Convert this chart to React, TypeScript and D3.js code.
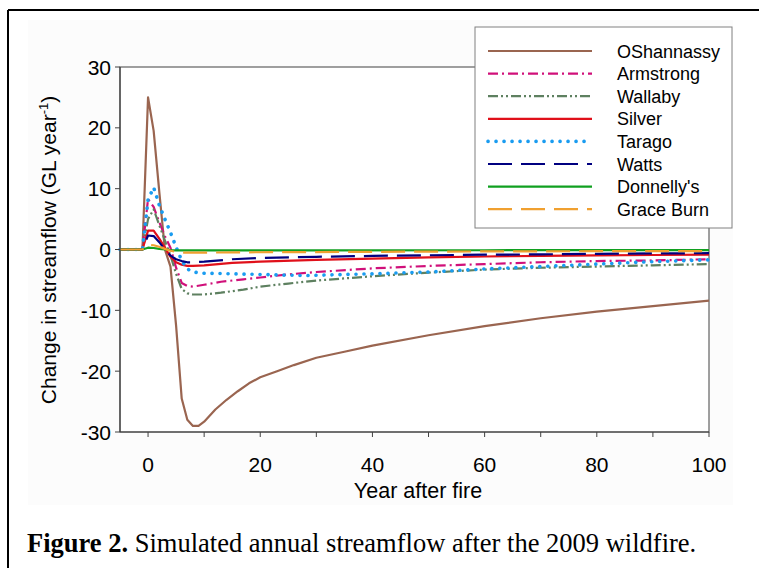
import React from "react";
import * as d3 from "d3";

type Pt = [number, number];

const pre: Pt[] = [[-5, 0], [-4, 0], [-3, 0], [-2, 0], [-1, 0]];

const oshannassy: Pt[] = [...pre, [0, 25], [1, 19.5], [2, 9.5], [3, 0], [4, -2.8], [5, -12.5], [6, -24.5], [7, -28], [8, -29], [9, -29], [10, -28.3], [12, -26.3], [14, -24.7], [16, -23.3], [18, -22], [20, -21], [23, -20], [26, -19], [30, -17.8], [35, -16.8], [40, -15.8], [50, -14.1], [60, -12.6], [70, -11.3], [80, -10.2], [90, -9.3], [100, -8.4]];
const armstrong: Pt[] = [...pre, [0, 8.3], [1, 7], [2, 4.5], [3, 2.2], [4, 0.3], [5, -3], [6, -5.5], [7, -6], [8, -6.1], [10, -5.8], [13, -5.3], [17, -4.9], [20, -4.6], [25, -4.1], [30, -3.7], [40, -3.1], [50, -2.7], [60, -2.4], [70, -2.1], [80, -1.9], [90, -1.8], [100, -1.6]];
const wallaby: Pt[] = [...pre, [0, 5], [1, 6.6], [2, 4], [3, 1.5], [4, -1], [5, -4], [6, -6.5], [7, -7.2], [8, -7.4], [10, -7.4], [13, -7.1], [17, -6.6], [20, -6.1], [25, -5.6], [30, -5.1], [40, -4.4], [50, -3.8], [60, -3.3], [70, -3], [80, -2.8], [90, -2.6], [100, -2.4]];
const silver: Pt[] = [...pre, [0, 3.1], [1, 3.1], [2, 1.8], [3, 0.3], [4, -1.2], [5, -2.1], [6, -2.5], [7, -2.7], [8, -2.7], [10, -2.6], [15, -2.2], [20, -2], [30, -1.7], [40, -1.5], [50, -1.3], [60, -1.15], [70, -1.05], [80, -0.95], [90, -0.9], [100, -0.85]];
const tarago: Pt[] = [...pre, [0, 8.2], [1, 10.2], [2, 7.3], [3, 5], [4, 2.8], [5, 0.4], [6, -1.8], [7, -3.2], [8, -3.7], [10, -3.9], [15, -4], [20, -4.1], [28, -4.3], [35, -4.1], [40, -4], [50, -3.7], [60, -3.2], [70, -2.8], [80, -2.4], [90, -2], [100, -1.7]];
const watts: Pt[] = [...pre, [0, 2.3], [1, 2.2], [2, 1.2], [3, 0], [4, -1], [5, -1.6], [6, -1.9], [7, -2.1], [8, -2.1], [10, -2], [15, -1.6], [20, -1.4], [30, -1.2], [40, -1.05], [50, -0.95], [60, -0.85], [70, -0.8], [80, -0.72], [90, -0.65], [100, -0.6]];
const donnellys: Pt[] = [...pre, [0, 0.3], [1, 0.25], [2, 0.1], [3, 0], [4, -0.1], [5, -0.15], [10, -0.15], [30, -0.15], [60, -0.12], [100, -0.1]];
const graceBurn: Pt[] = [...pre, [0, 0.8], [1, 0.7], [2, 0.45], [3, 0.1], [4, -0.2], [5, -0.4], [6, -0.5], [10, -0.5], [20, -0.45], [40, -0.38], [60, -0.32], [80, -0.28], [100, -0.25]];

const seriesNames = ["OShannassy", "Armstrong", "Wallaby", "Silver", "Tarago", "Watts", "Donnelly's", "Grace Burn"];
const seriesData = [oshannassy, armstrong, wallaby, silver, tarago, watts, donnellys, graceBurn];
const seriesColors = ["#9A6550", "#D0107A", "#5E8060", "#E0101A", "#1A9CF0", "#000080", "#10A020", "#F0A030"];
const seriesDash = ["", "10 4 2 4", "10 3 2 3 2 3", "", "0.1 7.9", "24 9", "", "24 9"];

const xTicks = [0, 20, 40, 60, 80, 100];
const xMinorTicks = [0, 10, 20, 30, 40, 50, 60, 70, 80, 90, 100];
const yTicks = [-30, -20, -10, 0, 10, 20, 30];

export default function App() {
  const W = 759, H = 568;
  const x0 = 120, x1 = 709, y0 = 67, y1 = 432;
  const x = d3.scaleLinear().domain([-5, 100]).range([x0, x1]);
  const y = d3.scaleLinear().domain([-30, 30]).range([y1, y0]);
  const line = d3.line<Pt>().x(d => x(d[0])).y(d => y(d[1]));
  const axisColor = "#404040";
  const sans = "'Liberation Sans', Arial, sans-serif";
  const serif = "'Liberation Serif', 'Times New Roman', serif";

  const legX = 475, legY = 27, legW = 257, legH = 201;
  const rowY = (i: number) => 51 + i * 22.6;

  return (
    <svg width={W} height={H} style={{ position: "absolute", left: 0, top: 0 }} xmlns="http://www.w3.org/2000/svg">
      <rect x={0} y={0} width={W} height={H} fill="#ffffff" />
      <rect x={28} y={20} width={705} height={485} fill="#fcfcfc" />
      {/* outer frame */}
      <line x1={8} y1={10} x2={W} y2={10} stroke="#000" strokeWidth={2} />
      <line x1={8} y1={10} x2={8} y2={H} stroke="#000" strokeWidth={2} />

      {/* plot frame */}
      <rect x={x0} y={y0} width={x1 - x0} height={y1 - y0} fill="#ffffff" stroke={axisColor} strokeWidth={1} />

      {/* series */}
      <g>
        {seriesData.map((d, i) => (
          <path key={seriesNames[i]} d={line(d) || ""} fill="none" stroke={seriesColors[i]}
            strokeWidth={i === 4 ? 3.6 : 2.2} strokeDasharray={seriesDash[i] || undefined}
            strokeLinecap={i === 4 ? "round" : "butt"} strokeLinejoin="round" />
        ))}
      </g>

      {/* axes */}
      <line x1={x0} y1={y0} x2={x0} y2={y1} stroke={axisColor} strokeWidth={1.2} />
      <line x1={x0} y1={y1} x2={x1} y2={y1} stroke={axisColor} strokeWidth={1.2} />
      {yTicks.map(t => (
        <g key={"y" + t}>
          <line x1={x0 - 5} x2={x0} y1={y(t)} y2={y(t)} stroke={axisColor} strokeWidth={1} />
          <text x={x0 - 9} y={y(t) + 7.5} textAnchor="end" fontFamily={sans} fontSize={21} fill="#000">{t}</text>
        </g>
      ))}
      {xMinorTicks.map(t => (
        <line key={"xm" + t} x1={x(t)} x2={x(t)} y1={y1} y2={y1 + 5} stroke={axisColor} strokeWidth={1} />
      ))}
      {xTicks.map(t => (
        <text key={"x" + t} x={x(t)} y={y1 + 40} textAnchor="middle" fontFamily={sans} fontSize={21} fill="#000">{t}</text>
      ))}
      <text x={418} y={498} textAnchor="middle" fontFamily={sans} fontSize={21.5} fill="#000">Year after fire</text>
      <text transform="translate(56,250) rotate(-90)" textAnchor="middle" fontFamily={sans} fontSize={21} fill="#000">
        Change in streamflow (GL year<tspan dy={-8} fontSize={13}>-1</tspan><tspan dy={8}>)</tspan>
      </text>

      {/* legend */}
      <rect x={legX} y={legY} width={legW} height={legH} fill="#ffffff" stroke="#808080" strokeWidth={1} />
      {seriesNames.map((n, i) => (
        <g key={"l" + n}>
          <line x1={488} x2={592} y1={rowY(i)} y2={rowY(i)} stroke={seriesColors[i]}
            strokeWidth={i === 4 ? 3.6 : 2.2} strokeDasharray={seriesDash[i] || undefined}
            strokeLinecap={i === 4 ? "round" : "butt"} />
          <text x={617} y={rowY(i) + 6.5} fontFamily={sans} fontSize={18} fill="#000">{n}</text>
        </g>
      ))}

      {/* caption */}
      <text x={27} y={552} fontFamily={serif} fontSize={26.5} fill="#000">
        <tspan fontWeight="bold">Figure 2.</tspan> Simulated annual streamflow after the 2009 wildfire.
      </text>
    </svg>
  );
}
